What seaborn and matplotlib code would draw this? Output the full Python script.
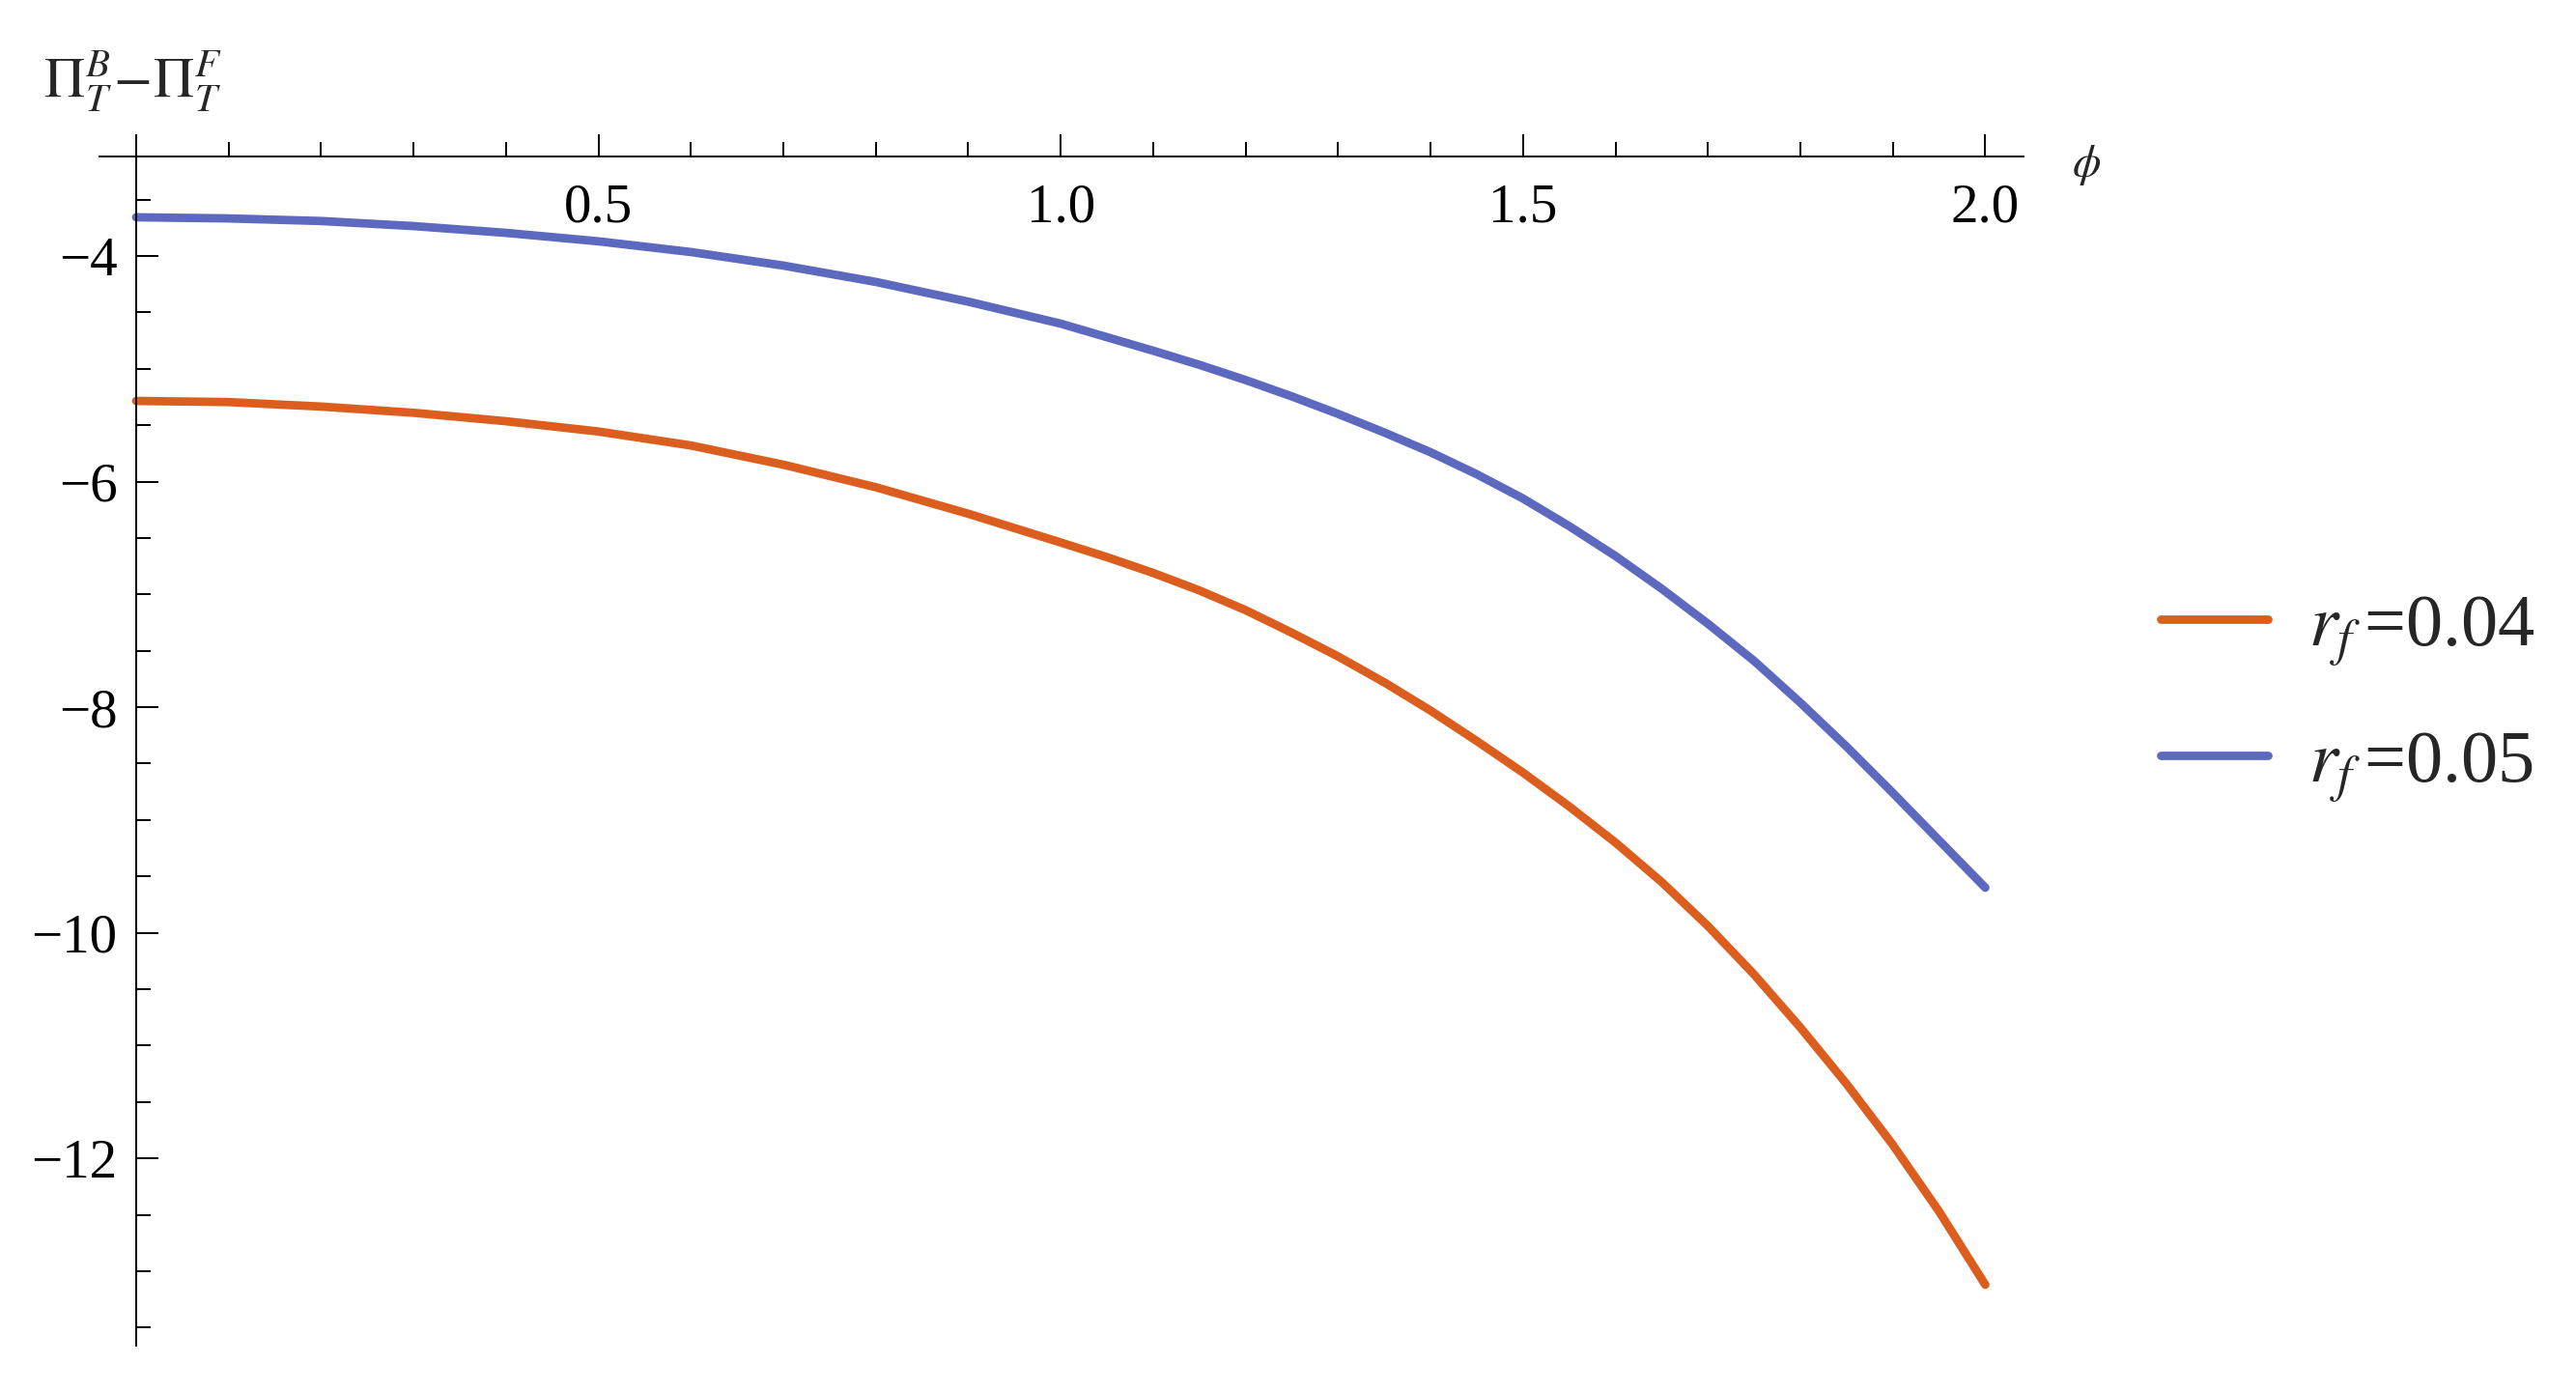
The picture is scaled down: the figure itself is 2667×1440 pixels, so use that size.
import numpy as np
import pandas as pd
import matplotlib.pyplot as plt
from matplotlib.ticker import MultipleLocator
import seaborn as sns

# values
phi = [0.0, 0.1, 0.2, 0.3, 0.4, 0.5, 0.6, 0.7, 0.8, 0.9, 1.0,
       1.05, 1.1, 1.15, 1.2, 1.25, 1.3, 1.35, 1.4, 1.45, 1.5,
       1.55, 1.6, 1.65, 1.7, 1.75, 1.8, 1.85, 1.9, 1.95, 2.0]
diff_rf004 = [-5.285, -5.295, -5.335, -5.39, -5.465, -5.556, -5.68, -5.85, -6.05, -6.285, -6.54,
              -6.67, -6.81, -6.965, -7.14, -7.34, -7.55, -7.78, -8.03, -8.30, -8.58,
              -8.88, -9.20, -9.55, -9.94, -10.37, -10.84, -11.34, -11.88, -12.47, -13.12]
diff_rf005 = [-3.657, -3.667, -3.69, -3.735, -3.795, -3.87, -3.965, -4.085, -4.23, -4.405, -4.60,
              -4.72, -4.84, -4.965, -5.10, -5.245, -5.40, -5.565, -5.74, -5.935, -6.15,
              -6.395, -6.66, -6.95, -7.26, -7.59, -7.96, -8.35, -8.76, -9.18, -9.60]
series_labels = [r"$r_f\,$=0.04", r"$r_f\,$=0.05"]
x_ticks = [0.0, 0.5, 1.0, 1.5, 2.0]
x_tick_labels = ["", "0.5", "1.0", "1.5", "2.0"]
y_ticks = [-12, -10, -8, -6, -4]

sns.set_theme(style="white")
plt.rcParams["font.family"] = ["Liberation Serif", "DejaVu Serif"]
plt.rcParams["mathtext.fontset"] = "stix"

df = pd.DataFrame({
    "phi": phi + phi,
    "diff": diff_rf004 + diff_rf005,
    "rf": [series_labels[0]] * len(phi) + [series_labels[1]] * len(phi),
})

fig = plt.figure(figsize=(26.67, 14.4), dpi=100)
ax = fig.add_axes([0.0385, 0.0326, 0.7469, 0.8549])

sns.lineplot(data=df, x="phi", y="diff", hue="rf", palette=["#DC5E1E", "#5C69BF"],
             linewidth=6.3, sort=False, ax=ax)

y_top = -3.118
ax.set_xlim(-0.04, 2.041)
ax.set_ylim(-13.66, y_top)

# Mathematica-style axes: x axis on top, y axis through phi = 0
ax.spines["top"].set_visible(False)
ax.spines["right"].set_visible(False)
ax.spines["bottom"].set_position(("data", y_top))
ax.spines["left"].set_position(("data", 0))
for s in ["bottom", "left"]:
    ax.spines[s].set_color("black")
    ax.spines[s].set_linewidth(1.4)

ax.set_xticks(x_ticks)
ax.set_xticklabels(x_tick_labels)
ax.set_yticks(y_ticks)
ax.xaxis.set_minor_locator(MultipleLocator(0.1))
ax.yaxis.set_minor_locator(MultipleLocator(0.5))
ax.tick_params(axis="both", which="both", direction="in", color="black", width=1.4,
               labelcolor="black", bottom=True, left=True)
ax.tick_params(axis="x", which="major", length=16.5, pad=20, labelsize=41)
ax.tick_params(axis="y", which="major", length=16.5, pad=14, labelsize=41)
ax.tick_params(axis="both", which="minor", length=10.5)
ax.set_xlabel("")
ax.set_ylabel("")

fig.text(45 / 2667, 1 - 100 / 1440, r"$\Pi_T^B\!-\!\Pi_T^F$", fontsize=42,
         ha="left", va="baseline")
fig.text(2145 / 2667, 1 - 171 / 1440, r"$\phi$", fontsize=34, ha="left", va="center")

sns.move_legend(ax, "center left", bbox_to_anchor=(2237 / 2667, 1 - 723 / 1440),
                bbox_transform=fig.transFigure, frameon=False, title=None,
                fontsize=55, handlelength=1.45, handletextpad=0.55,
                labelspacing=0.85, borderpad=0, borderaxespad=0)

fig.savefig("out.png", dpi=100)
